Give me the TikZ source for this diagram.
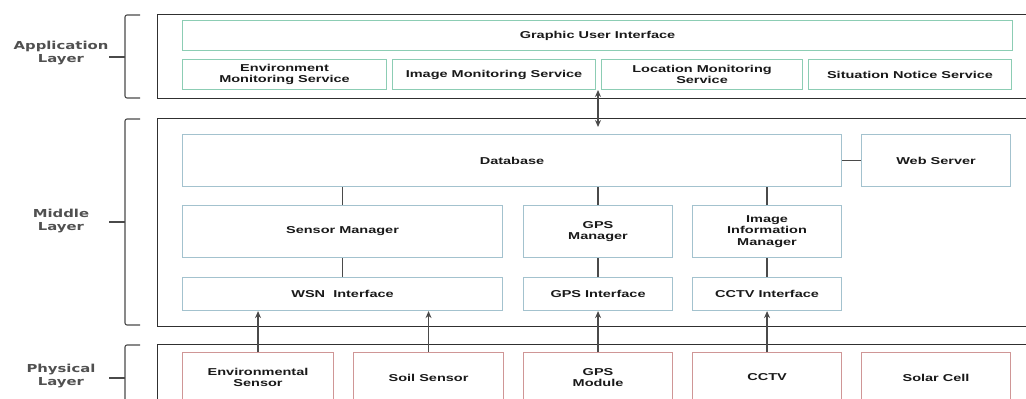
\documentclass[tikz,border=0pt]{standalone}
\usepackage{fontspec}
\setmainfont{Liberation Sans}
\newfontfamily\boxfont{Liberation Sans}[FakeStretch=1.45]
\newfontfamily\layfont{DejaVu Sans}[FakeStretch=1.35]
\usetikzlibrary{arrows.meta}
\definecolor{appc}{HTML}{8CCDB4}
\definecolor{midc}{HTML}{A3C2CE}
\definecolor{phyc}{HTML}{CF9696}
\definecolor{linec}{HTML}{4A4A4A}
\definecolor{outc}{HTML}{303030}
\definecolor{labc}{HTML}{505050}
\tikzset{
  base/.style={draw, line width=1.1pt, anchor=north west, inner sep=0pt, align=center,
    font=\boxfont\bfseries\fontsize{10}{11.5}\selectfont, text=black!90},
  appbox/.style={base, draw=appc},
  midbox/.style={base, draw=midc},
  phybox/.style={base, draw=phyc},
  outer/.style={draw=outc, line width=1.1pt, anchor=north west, inner sep=0pt},
  conn/.style={draw=linec, line width=1.5pt},
  arr/.style={conn, -{Stealth[length=7pt,width=6pt]}},
  darr/.style={conn, {Stealth[length=7pt,width=6pt]}-{Stealth[length=7pt,width=6pt]}},
  brace/.style={draw=linec, line width=1.1pt, rounded corners=2pt},
  laylabel/.style={align=center, text=labc, font=\layfont\bfseries\fontsize{11}{13}\selectfont},
}
\begin{document}
\begin{tikzpicture}[x=1pt,y=-1pt]
\useasboundingbox (0,0) rectangle (1026,399);
\clip (0,0) rectangle (1026,399);
% outer layers
\node[outer, minimum width=880pt, minimum height=84pt] (app) at (157,14) {};
\node[outer, minimum width=880pt, minimum height=208pt] (mid) at (157,118) {};
\node[outer, minimum width=880pt, minimum height=80pt] (phy) at (157,344) {};
% braces
\draw[brace] (140,15) -- (125,15) -- (125,98) -- (140,98);
\draw[brace] (140,119) -- (125,119) -- (125,325) -- (140,325);
\draw[brace] (140,345) -- (125,345) -- (125,420);
\coordinate (b1) at (125,57); \coordinate (b1l) at (109,57);
\coordinate (b2) at (125,222); \coordinate (b2l) at (109,222);
\coordinate (b3) at (125,378); \coordinate (b3l) at (109,378);
\draw[brace] (b1l) -- (b1); \draw[brace] (b2l) -- (b2); \draw[brace] (b3l) -- (b3);
% layer labels
\node[laylabel] (lapp) at (61,53) {Application\\Layer};
\node[laylabel] (lmid) at (61,221) {Middle\\Layer};
\node[laylabel] (lphy) at (61,376) {Physical\\Layer};
% application layer
\node[appbox, minimum width=830pt, minimum height=30pt] (gui) at (182,20) {Graphic User Interface};
\node[appbox, minimum width=204pt, minimum height=30pt] (env) at (182,59) {Environment\\Monitoring Service};
\node[appbox, minimum width=203pt, minimum height=30pt] (img) at (392,59) {Image Monitoring Service};
\node[appbox, minimum width=201pt, minimum height=30pt] (loc) at (601,59) {Location Monitoring\\Service};
\node[appbox, minimum width=203pt, minimum height=30pt] (sit) at (808,59) {Situation Notice Service};
% middle layer
\node[midbox, minimum width=659pt, minimum height=52pt] (db) at (182,134) {Database};
\node[midbox, minimum width=149pt, minimum height=52pt] (web) at (861,134) {Web Server};
\node[midbox, minimum width=320pt, minimum height=52pt] (sm) at (182,205) {Sensor Manager};
\node[midbox, minimum width=149pt, minimum height=52pt] (gpsm) at (523,205) {GPS\\Manager};
\node[midbox, minimum width=149pt, minimum height=52pt] (imm) at (692,205) {Image\\Information\\Manager};
\node[midbox, minimum width=320pt, minimum height=33pt] (wsn) at (182,277) {WSN~ Interface};
\node[midbox, minimum width=149pt, minimum height=33pt] (gpsi) at (523,277) {GPS Interface};
\node[midbox, minimum width=149pt, minimum height=33pt] (cctvi) at (692,277) {CCTV Interface};
% physical layer
\node[phybox, minimum width=151pt, minimum height=50pt] (envs) at (182,352) {Environmental\\Sensor};
\node[phybox, minimum width=150pt, minimum height=50pt] (soil) at (353,352) {Soil Sensor};
\node[phybox, minimum width=149pt, minimum height=50pt] (gpsmod) at (523,352) {GPS\\Module};
\node[phybox, minimum width=149pt, minimum height=50pt] (cctv) at (692,352) {CCTV};
\node[phybox, minimum width=149pt, minimum height=50pt] (solar) at (861,352) {Solar Cell};
% connectors
\draw[conn] (db.east) -- (web.west);
\draw[conn] (sm.north) -- (sm.north |- db.south);
\draw[conn] (gpsm.north) -- (gpsm.north |- db.south);
\draw[conn] (imm.north) -- (imm.north |- db.south);
\draw[conn] (sm.south) -- (wsn.north);
\draw[conn] (gpsm.south) -- (gpsi.north);
\draw[conn] (imm.south) -- (cctvi.north);
\draw[arr] (envs.north) -- (envs.north |- wsn.south);
\draw[arr] (soil.north) -- (soil.north |- wsn.south);
\draw[arr] (gpsmod.north) -- (gpsi.south);
\draw[arr] (cctv.north) -- (cctvi.south);
\coordinate (ua) at (598,90);
\coordinate (ub) at (598,127);
\draw[darr] (ua) -- (ub);
\end{tikzpicture}
\end{document}
